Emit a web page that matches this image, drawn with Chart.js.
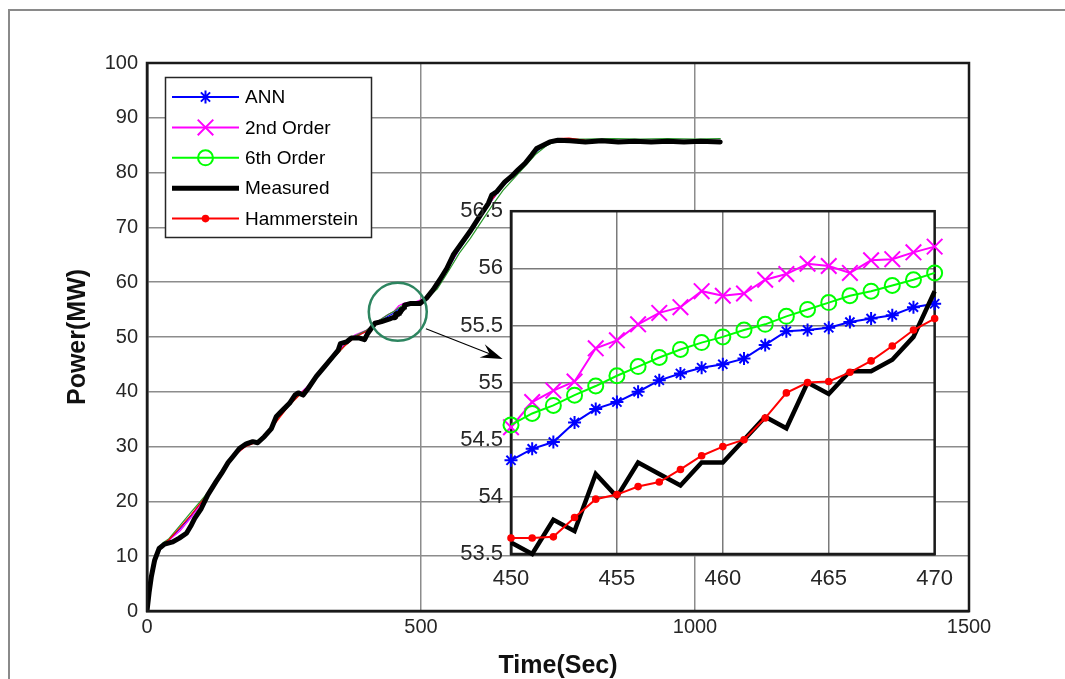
<!DOCTYPE html>
<html>
<head>
<meta charset="utf-8">
<script src="https://cdn.jsdelivr.net/npm/chart.js@4.4.1/dist/chart.umd.min.js"></script>
<style>
    html, body { margin: 0; padding: 0; background: #fff; }
    #wrap { position: relative; width: 1065px; height: 679px; overflow: hidden; }
    #frame { position: absolute; left: 8px; top: 9px; width: 1100px; height: 700px;
             border-left: 2px solid #8a8a8a; border-top: 2px solid #8a8a8a; }
    #mainChart { position: absolute; left: 0; top: 0; }
    #insetChart { position: absolute; left: 430px; top: 190px; }
</style>
</head>
<body>
<div id="wrap">
    <div id="frame"></div>
    <canvas id="mainChart" width="1065" height="679" style="width:1065px;height:679px"></canvas>
    <canvas id="insetChart" width="535" height="410" style="width:535px;height:410px"></canvas>
</div>
<script>
// Measured power, full run (the 450-470 s stretch comes from the zoom arrays below)
const measuredEarlyTime = [0, 4, 8, 14, 22, 32, 47, 59, 72, 81,
    87, 99, 111, 126, 136, 148, 157, 169, 181, 193,
    202, 214, 227, 236, 248, 260, 270, 276, 285, 294,
    309, 324, 339, 349, 353, 364, 373, 388, 397, 403,
    416, 428, 443];
const measuredEarlyPower = [0, 3.5, 6.3, 9.3, 11.4, 12.2, 12.6, 13.3, 14.2, 15.7,
    16.9, 18.7, 21.2, 23.6, 25.1, 27.1, 28.2, 29.7, 30.5, 30.9,
    30.7, 31.8, 33.3, 35.5, 36.7, 37.9, 39.4, 39.8, 39.4, 40.6,
    42.8, 44.6, 46.4, 47.6, 48.8, 49.1, 49.8, 49.8, 49.5, 50.7,
    52.5, 52.8, 53.3];
const measuredLateTime = [480, 498, 510, 522, 534, 547, 559, 574, 589, 607,
    623, 629, 638, 653, 665, 677, 690, 702, 711, 723,
    735, 750, 772, 800, 830, 860, 890, 920, 950, 980,
    1010, 1046];
const measuredLatePower = [56.1, 56.1, 57.1, 58.6, 60.4, 62.5, 65.0, 67.1, 69.2, 72.0,
    74.4, 75.9, 76.5, 78.3, 79.3, 80.5, 81.7, 83.2, 84.4, 85.0,
    85.6, 85.9, 85.8, 85.6, 85.8, 85.6, 85.7, 85.6, 85.7, 85.6,
    85.7, 85.6];

// Model outputs on a coarser time grid
const modelTime = [0, 5, 10, 20, 30, 40, 60, 80, 100, 120,
    140, 160, 180, 200, 220, 240, 260, 280, 300, 320,
    340, 360, 380, 400, 420, 440, 450, 460, 470, 490,
    510, 530, 550, 570, 590, 610, 630, 650, 670, 690,
    710, 730, 750, 770, 800, 850, 900, 950, 1000, 1046];
const annPower = [0, 4.6, 8.2, 11.2, 12.3, 13.0, 15.0, 17.3, 19.9, 22.5,
    25.6, 28.5, 30.1, 30.9, 32.6, 35.4, 37.8, 39.7, 41.5, 44.0,
    46.3, 48.4, 50.1, 51.0, 52.6, 53.8, 54.32, 55.16, 55.69, 56.3,
    57.1, 59.2, 62.6, 66.0, 68.9, 72.0, 75.0, 77.6, 79.5, 81.5,
    83.8, 85.3, 85.9, 85.9, 85.8, 85.8, 85.8, 85.8, 85.8, 85.8];
const order2Power = [0, 4.6, 8.2, 11.2, 12.3, 12.9, 14.6, 17.0, 19.8, 22.5,
    25.6, 28.5, 30.1, 30.9, 32.6, 35.4, 37.9, 39.8, 41.6, 44.1,
    46.4, 48.6, 50.4, 51.2, 52.8, 54.1, 54.61, 55.76, 56.19, 56.4,
    57.2, 59.3, 62.7, 66.1, 69.0, 72.1, 75.1, 77.7, 79.6, 81.6,
    84.0, 85.6, 86.1, 86.0, 85.9, 85.9, 85.9, 85.9, 85.9, 85.9];
const order6Power = [0, 4.8, 8.5, 11.4, 12.5, 13.2, 15.6, 18.0, 20.3, 22.7,
    25.7, 28.6, 30.2, 31.0, 32.6, 35.2, 37.6, 39.6, 41.4, 43.9,
    46.1, 48.3, 50.2, 51.2, 52.8, 54.1, 54.63, 55.40, 55.96, 56.3,
    57.0, 58.8, 62.0, 65.3, 68.0, 71.0, 74.0, 76.8, 79.0, 81.2,
    83.4, 85.0, 85.8, 86.1, 86.1, 86.2, 86.1, 86.2, 86.1, 86.2];
const hammPower = [0, 4.6, 8.2, 11.2, 12.3, 13.0, 15.2, 17.5, 20.0, 22.5,
    25.5, 28.4, 30.0, 30.8, 32.4, 35.0, 37.6, 39.6, 41.4, 43.9,
    46.2, 48.3, 50.0, 51.0, 52.4, 53.4, 53.64, 54.44, 55.56, 56.2,
    57.0, 59.3, 62.8, 66.2, 69.0, 72.1, 75.1, 77.7, 79.6, 81.6,
    84.0, 85.6, 86.2, 86.3, 85.9, 85.8, 85.8, 85.8, 85.8, 85.8];

// Zoomed window 450-470 s, one sample per second
const zoomTime = [450, 451, 452, 453, 454, 455, 456, 457, 458, 459, 460,
    461, 462, 463, 464, 465, 466, 467, 468, 469, 470];
const zoomAnn = [54.32, 54.42, 54.48, 54.65, 54.77, 54.83, 54.92, 55.02, 55.08, 55.13, 55.16,
    55.21, 55.33, 55.45, 55.46, 55.48, 55.53, 55.56, 55.59, 55.66, 55.69];
const zoomOrder2 = [54.61, 54.83, 54.93, 55.01, 55.30, 55.37, 55.51, 55.61, 55.66, 55.80, 55.76,
    55.78, 55.90, 55.95, 56.04, 56.02, 55.96, 56.07, 56.08, 56.14, 56.19];
const zoomOrder6 = [54.63, 54.73, 54.80, 54.89, 54.97, 55.06, 55.14, 55.22, 55.29, 55.35, 55.40,
    55.46, 55.51, 55.58, 55.64, 55.70, 55.76, 55.80, 55.85, 55.90, 55.96];
const zoomMeasured = [53.6, 53.5, 53.8, 53.7, 54.2, 54.0, 54.3, 54.2, 54.1, 54.3, 54.3,
    54.5, 54.7, 54.6, 55.0, 54.9, 55.1, 55.1, 55.2, 55.4, 55.8];
const zoomHamm = [53.64, 53.64, 53.65, 53.82, 53.98, 54.02, 54.09, 54.13, 54.24, 54.36, 54.44,
    54.50, 54.69, 54.91, 55.00, 55.01, 55.09, 55.19, 55.32, 55.46, 55.56];

// where the zoom circle sits on the main plot, and where its arrow points
const zoomCircleAt = { x: 457.6, y: 54.6 };
const arrowFrom = { x: 509, y: 51.5 };
const arrowTo = { x: 649, y: 46.0 };

const measuredTime = [...measuredEarlyTime, ...zoomTime, ...measuredLateTime];
const measuredPower = [...measuredEarlyPower, ...zoomMeasured, ...measuredLatePower];

const series = [
    { label: 'ANN', color: '#0000ff', thinColor: '#0000ff', pointStyle: 'star', radius: 6.5, fill: 'rgba(0,0,0,0)', width: 2 },
    { label: '2nd Order', color: '#ff00ff', thinColor: '#ff00ff', pointStyle: 'crossRot', radius: 11, fill: 'rgba(0,0,0,0)', width: 2 },
    { label: '6th Order', color: '#00ff00', thinColor: '#2a9a2a', pointStyle: 'circle', radius: 7.5, fill: 'rgba(0,0,0,0)', width: 2 },
    { label: 'Measured', color: '#000000', thinColor: '#000000', pointStyle: false, radius: 0, fill: '#000', width: 5 },
    { label: 'Hammerstein', color: '#ff0000', thinColor: '#ff0000', pointStyle: 'circle', radius: 2.8, fill: '#ff0000', width: 2 }
];

const toPoints = (xs, ys) => xs.map((x, i) => ({ x: x, y: ys[i] }));
// plain numbers, no thousands separators or padded decimals
const plainTick = v => String(Number(v.toFixed(2)));

Chart.defaults.font.family = '"Liberation Sans", Arial, Helvetica, sans-serif';
Chart.defaults.color = '#262626';

const axisBorder = { color: '#1a1a1a', width: 2.5 };

// box, zoom circle + arrow, legend
const mainDecor = {
    id: 'mainDecor',
    afterDraw(chart) {
        const { ctx, chartArea: a, scales } = chart;
        ctx.save();
        ctx.strokeStyle = '#1a1a1a';
        ctx.lineWidth = 2.5;
        ctx.strokeRect(a.left, a.top, a.right - a.left, a.bottom - a.top);

        // circle around the zoomed stretch
        const cx = scales.x.getPixelForValue(zoomCircleAt.x);
        const cy = scales.y.getPixelForValue(zoomCircleAt.y);
        ctx.strokeStyle = '#2d8560';
        ctx.lineWidth = 2.5;
        ctx.beginPath();
        ctx.arc(cx, cy, 29, 0, Math.PI * 2);
        ctx.stroke();

        // arrow towards the zoom panel
        const x0 = scales.x.getPixelForValue(arrowFrom.x), y0 = scales.y.getPixelForValue(arrowFrom.y);
        const x1 = scales.x.getPixelForValue(arrowTo.x), y1 = scales.y.getPixelForValue(arrowTo.y);
        const ang = Math.atan2(y1 - y0, x1 - x0);
        ctx.strokeStyle = '#000';
        ctx.lineWidth = 1.2;
        ctx.beginPath();
        ctx.moveTo(x0, y0);
        ctx.lineTo(x1 - 10 * Math.cos(ang), y1 - 10 * Math.sin(ang));
        ctx.stroke();
        ctx.fillStyle = '#000';
        ctx.beginPath();
        ctx.moveTo(x1, y1);
        ctx.lineTo(x1 - 22 * Math.cos(ang) + 7 * Math.sin(ang), y1 - 22 * Math.sin(ang) - 7 * Math.cos(ang));
        ctx.lineTo(x1 - 14 * Math.cos(ang), y1 - 14 * Math.sin(ang));
        ctx.lineTo(x1 - 22 * Math.cos(ang) - 7 * Math.sin(ang), y1 - 22 * Math.sin(ang) + 7 * Math.cos(ang));
        ctx.closePath();
        ctx.fill();

        // legend
        const box = { x: 165.5, y: 77.5, w: 206, h: 160 };
        ctx.fillStyle = '#fff';
        ctx.fillRect(box.x, box.y, box.w, box.h);
        ctx.strokeStyle = '#262626';
        ctx.lineWidth = 1.5;
        ctx.strokeRect(box.x, box.y, box.w, box.h);
        ctx.font = '19px "Liberation Sans", Arial, sans-serif';
        ctx.textBaseline = 'middle';
        series.forEach((s, i) => {
            const y = 97 + i * 30.4;
            ctx.strokeStyle = s.color;
            ctx.lineWidth = s.width;
            ctx.beginPath();
            ctx.moveTo(172, y);
            ctx.lineTo(239, y);
            ctx.stroke();
            if (s.pointStyle) {
                ctx.lineWidth = 2;
                ctx.fillStyle = s.fill;
                Chart.helpers.drawPoint(ctx, { pointStyle: s.pointStyle, radius: s.radius, borderWidth: 2, rotation: 0 }, 205.5, y);
            }
            ctx.fillStyle = '#000';
            ctx.fillText(s.label, 245, y + 1);
        });
        ctx.restore();
    }
};

const mainOrder = { 'Measured': 0, 'Hammerstein': 1, '6th Order': 2, '2nd Order': 3, 'ANN': 4 };
const mainData = { 'ANN': annPower, '2nd Order': order2Power, '6th Order': order6Power, 'Hammerstein': hammPower };

new Chart(document.getElementById('mainChart'), {
    type: 'line',
    data: {
        datasets: series.map(s => ({
            label: s.label,
            data: s.label === 'Measured' ? toPoints(measuredTime, measuredPower) : toPoints(modelTime, mainData[s.label]),
            borderColor: s.thinColor,
            borderWidth: s.label === 'Measured' ? 5 : 1.2,
            borderJoinStyle: 'round',
            borderCapStyle: 'round',
            pointRadius: 0,
            order: mainOrder[s.label]
        }))
    },
    options: {
        responsive: false,
        animation: false,
        events: [],
        layout: { padding: { top: 63, right: 96, left: 0, bottom: 0 } },
        elements: { line: { tension: 0 } },
        plugins: { legend: { display: false }, tooltip: { enabled: false } },
        scales: {
            x: {
                type: 'linear', min: 0, max: 1500,
                ticks: { stepSize: 500, autoSkip: false, maxRotation: 0, padding: 4, font: { size: 20 }, callback: plainTick },
                grid: { color: '#8c8c8c', lineWidth: 1.5, drawTicks: false },
                border: axisBorder,
                title: { display: true, text: 'Time(Sec)', color: '#111', font: { size: 25, weight: 'bold' }, padding: { top: 0, bottom: -2 } },
                afterFit: s => { s.height = 68; }
            },
            y: {
                min: 0, max: 100,
                ticks: { stepSize: 10, autoSkip: false, padding: 9, font: { size: 20 }, callback: plainTick },
                grid: { color: '#8c8c8c', lineWidth: 1.5, drawTicks: false },
                border: axisBorder,
                title: { display: true, text: 'Power(MW)', color: '#111', font: { size: 25, weight: 'bold' }, padding: { top: 63, bottom: 0 } },
                afterFit: s => { s.width = 147; }
            }
        }
    },
    plugins: [mainDecor]
});

// white plot area for the zoom panel, with its own box
const insetFrame = {
    id: 'insetFrame',
    beforeDraw(chart) {
        const { ctx, chartArea: a } = chart;
        ctx.save();
        ctx.fillStyle = '#fff';
        ctx.fillRect(a.left, a.top, a.right - a.left, a.bottom - a.top);
        ctx.restore();
    },
    beforeDatasetsDraw(chart) {
        const { ctx, chartArea: a } = chart;
        ctx.save();
        ctx.strokeStyle = '#1a1a1a';
        ctx.lineWidth = 2.5;
        ctx.strokeRect(a.left, a.top, a.right - a.left, a.bottom - a.top);
        ctx.restore();
    }
};

const zoomData = { 'ANN': zoomAnn, '2nd Order': zoomOrder2, '6th Order': zoomOrder6, 'Measured': zoomMeasured, 'Hammerstein': zoomHamm };
const zoomOrder = { 'Hammerstein': 0, 'Measured': 1, 'ANN': 2, '6th Order': 3, '2nd Order': 4 };

new Chart(document.getElementById('insetChart'), {
    type: 'line',
    data: {
        datasets: series.map(s => ({
            label: s.label,
            data: toPoints(zoomTime, zoomData[s.label]),
            borderColor: s.color,
            borderWidth: s.label === 'Measured' ? 4.5 : 2,
            borderJoinStyle: 'miter',
            pointStyle: s.pointStyle || 'circle',
            pointRadius: s.radius,
            pointBorderWidth: 2,
            pointBorderColor: s.color,
            pointBackgroundColor: s.fill,
            clip: false,
            order: zoomOrder[s.label]
        }))
    },
    options: {
        responsive: false,
        animation: false,
        events: [],
        layout: { padding: { top: 15, right: 22, left: 0, bottom: 0 } },
        elements: { line: { tension: 0 } },
        plugins: { legend: { display: false }, tooltip: { enabled: false } },
        scales: {
            x: {
                type: 'linear', min: 450, max: 470,
                ticks: { stepSize: 5, autoSkip: false, maxRotation: 0, padding: 12, font: { size: 22 }, callback: plainTick },
                grid: { color: '#7a7a7a', lineWidth: 1.5, drawTicks: false },
                border: axisBorder,
                afterFit: s => { s.height = 46; }
            },
            y: {
                min: 53.5, max: 56.5,
                ticks: { stepSize: 0.5, autoSkip: false, padding: 8, font: { size: 22 }, callback: plainTick },
                grid: { color: '#7a7a7a', lineWidth: 1.5, drawTicks: false },
                border: axisBorder,
                afterFit: s => { s.width = 81; }
            }
        }
    },
    plugins: [insetFrame]
});
</script>
</body>
</html>
